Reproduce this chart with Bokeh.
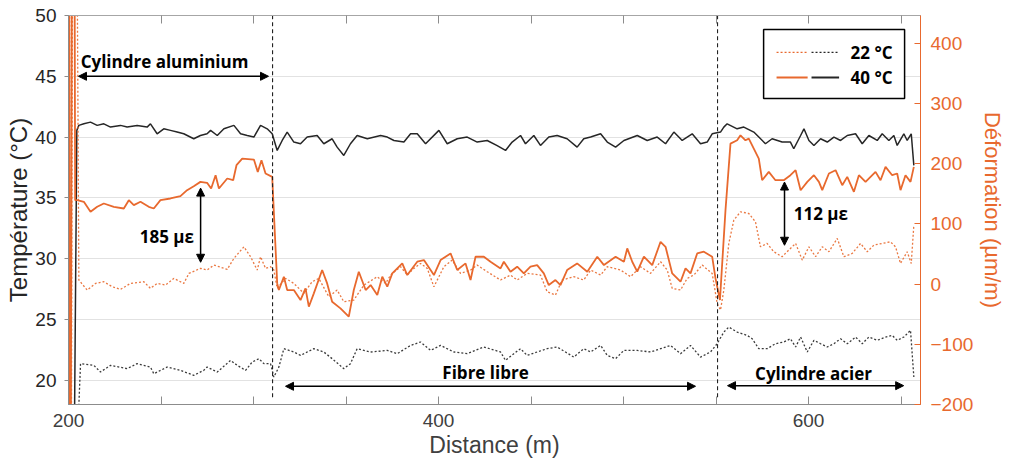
from bokeh.plotting import figure
from bokeh.models import (Range1d, LinearAxis, FixedTicker, Arrow, NormalHead,
                          Label, BoxAnnotation, ColumnDataSource)
from bokeh.embed import file_html
from bokeh.resources import INLINE

# ---------------- data (distance m, value) ----------------
# Temperature at 40 °C (black solid), °C
temp_40 = [(202.9, 10), (204.5, 40.55), (205.6, 40.96), (208.3, 41.09), (211.9, 41.23), (215.5, 40.96),
           (219.1, 41.09), (222.7, 40.82), (228.1, 40.96), (231.7, 40.82), (237.1, 40.96), (242.5, 40.82),
           (244.3, 41.09), (247.9, 40.27), (251.5, 40.68), (255.1, 40.55), (258.7, 40.41), (262.3, 40.27),
           (267.7, 39.86), (271.3, 40.13), (274.9, 40.27), (276.8, 40.55), (280.4, 40.13), (284.0, 40.68),
           (289.4, 40.96), (293.0, 40.27), (296.6, 40.13), (300.2, 40.0), (303.8, 40.96), (307.4, 40.68),
           (310.1, 40.27), (312.8, 38.9), (315.5, 39.72), (318.2, 40.41), (321.8, 39.59), (325.4, 39.45),
           (329.0, 40.0), (334.4, 40.13), (338.0, 39.45), (342.5, 39.86), (345.2, 39.17), (348.8, 38.49),
           (352.4, 39.45), (356.0, 40.13), (361.5, 39.86), (368.7, 40.13), (372.3, 40.0), (375.9, 39.72),
           (381.3, 39.59), (384.9, 40.27), (388.5, 40.27), (393.0, 39.45), (400.2, 40.55), (404.7, 39.45),
           (410.1, 39.86), (415.5, 40.0), (420.9, 39.59), (426.3, 39.72), (431.7, 39.3), (436.2, 38.9),
           (439.8, 39.59), (444.3, 40.13), (447.0, 39.45), (451.5, 40.13), (455.1, 39.31), (459.6, 40.0),
           (464.1, 40.13), (469.5, 39.86), (474.9, 39.17), (478.5, 39.86), (482.2, 40.0), (487.6, 40.27),
           (491.2, 39.59), (495.7, 39.17), (500.2, 39.72), (507.4, 40.13), (512.8, 39.72), (518.2, 40.0),
           (522.7, 39.45), (527.2, 40.41), (531.7, 39.72), (537.1, 40.27), (541.6, 39.45), (545.2, 39.59),
           (547.9, 40.27), (552.4, 40.41), (554.2, 40.82), (556.0, 41.09), (561.4, 40.68), (565.0, 40.82),
           (570.4, 40.41), (573.1, 40.0), (576.7, 39.45), (580.3, 39.86), (585.7, 39.59), (590.2, 39.59),
           (592.0, 39.04), (595.7, 40.13), (597.5, 40.68), (600.2, 39.72), (602.9, 39.31), (606.5, 39.86),
           (610.1, 39.59), (613.7, 40.0), (617.3, 39.72), (620.9, 40.13), (625.4, 40.27), (629.0, 39.45),
           (632.6, 40.13), (637.1, 39.72), (639.8, 40.27), (643.4, 39.72), (646.1, 40.13), (647.9, 39.31),
           (651.5, 40.27), (653.3, 39.72), (655.5, 40.27), (656.9, 37.67)]

# Temperature at 22 °C (black dotted), °C
temp_22 = [(203.5, 10), (206.5, 21.36), (213.7, 21.22), (217.3, 20.67), (222.7, 21.22), (231.7, 20.95),
           (237.1, 21.36), (244.3, 21.08), (246.1, 20.53), (253.3, 21.08), (260.5, 20.81), (267.7, 20.40),
           (273.1, 20.81), (274.9, 21.08), (280.4, 20.67), (287.6, 21.63), (291.2, 21.22), (295.7, 20.81),
           (299.3, 21.49), (302.9, 21.77), (305.6, 21.36), (309.2, 21.36), (311.0, 20.26), (313.7, 21.08),
           (316.4, 22.59), (321.8, 22.32), (325.4, 22.04), (332.6, 22.59), (338.0, 22.32), (342.5, 21.77),
           (348.8, 20.95), (352.4, 21.36), (356.0, 22.59), (363.3, 22.32), (372.3, 22.45), (377.7, 22.18),
           (384.9, 22.86), (390.3, 23.14), (395.7, 22.45), (401.1, 22.86), (408.3, 22.32), (415.5, 22.18),
           (424.5, 22.73), (433.5, 22.32), (436.2, 21.63), (440.7, 22.18), (444.3, 22.59), (447.9, 22.04),
           (453.3, 22.32), (458.7, 22.59), (464.1, 22.73), (468.6, 22.32), (473.1, 21.90), (478.5, 22.59),
           (482.2, 22.32), (487.6, 22.86), (491.2, 22.04), (495.7, 21.77), (500.2, 22.45), (507.4, 22.45),
           (514.6, 22.32), (520.0, 22.59), (525.4, 22.86), (530.8, 22.18), (536.2, 22.86), (541.6, 21.90),
           (547.0, 22.32), (550.6, 23.0), (554.2, 23.96), (556.9, 24.37), (561.4, 23.96), (566.8, 23.69),
           (569.5, 23.41), (573.1, 22.59), (577.6, 22.59), (582.1, 23.0), (586.6, 23.14), (590.2, 23.41),
           (593.0, 22.73), (595.7, 23.55), (599.3, 22.32), (602.9, 23.28), (606.5, 23.0), (610.1, 22.73),
           (613.7, 23.0), (617.3, 23.41), (620.9, 23.0), (625.4, 23.55), (629.0, 23.0), (632.6, 23.55),
           (637.1, 23.28), (641.6, 23.55), (645.2, 23.69), (647.9, 23.28), (651.5, 23.55), (655.1, 24.10),
           (656.9, 20.26)]

# Strain at 40 °C (orange solid), µm/m
strain_40 = [(200.0, 1500), (200.9, -800), (202.5, 1500), (203.6, 139.3), (204.7, 139.3), (208.3, 136.6),
             (211.9, 120.0), (215.5, 128.3), (219.1, 133.8), (224.5, 128.3), (229.9, 125.5), (232.6, 139.3),
             (235.3, 131.1), (238.9, 136.6), (243.4, 128.3), (246.1, 125.5), (249.7, 139.3), (255.1, 142.1),
             (260.5, 146.0), (264.1, 155.9), (267.7, 162.6), (271.3, 169.7), (274.9, 168.1), (277.1, 158.7),
             (279.5, 180.8), (281.3, 158.7), (285.8, 175.3), (289.0, 172.5), (290.8, 197.4), (293.9, 208.4),
             (300.2, 206.8), (302.3, 186.3), (304.3, 205.7), (306.5, 183.6), (310.1, 178.0), (312.8, 1.1),
             (313.7, -9.9), (316.4, 12.2), (318.2, -9.9), (321.8, -9.9), (325.4, -26.5), (328.1, -7.1),
             (329.9, -37.6), (332.6, -15.4), (337.1, 23.3), (339.8, 1.1), (342.5, -29.3), (347.0, -40.3),
             (351.5, -54.1), (354.2, -9.9), (356.9, 20.5), (360.6, -9.9), (363.3, -1.6), (366.9, -18.2),
             (369.6, 12.2), (372.3, -4.4), (375.0, 17.7), (380.4, 34.3), (383.1, 15.0), (388.5, 37.1),
             (392.1, 39.8), (397.5, 15.0), (401.1, 39.8), (406.5, 50.9), (410.1, 23.3), (414.6, 34.3),
             (417.3, 6.7), (420.0, 45.4), (424.5, 45.4), (428.1, 37.1), (433.5, 26.0), (435.3, 37.1),
             (438.9, 20.5), (442.5, 28.8), (446.1, 17.7), (449.7, 28.8), (453.3, 31.5), (456.9, 17.7),
             (459.6, -1.6), (463.2, 6.7), (465.9, -1.6), (469.5, 23.3), (474.9, 34.3), (480.4, 20.5),
             (485.8, 45.4), (489.4, 31.5), (495.7, 45.4), (500.2, 37.1), (502.0, 59.2), (504.7, 37.1),
             (507.4, 20.5), (511.0, 45.4), (515.5, 31.5), (520.0, 70.2), (522.7, 61.9), (526.3, 17.7),
             (530.8, 3.9), (533.5, 26.0), (536.2, 17.7), (539.8, 50.9), (543.4, 53.7), (547.9, 45.4),
             (549.7, 9.4), (552.1, -26.5), (555.1, 122.8), (557.8, 233.3), (561.4, 238.8), (563.2, 247.1),
             (565.9, 238.8), (567.7, 241.6), (570.4, 225.0), (573.1, 208.4), (574.9, 172.5), (578.5, 186.3),
             (582.1, 172.5), (586.6, 172.5), (590.2, 180.8), (593.0, 189.1), (595.7, 155.9), (599.3, 169.7),
             (602.9, 180.8), (605.6, 169.7), (607.4, 155.9), (611.0, 183.6), (614.6, 189.1), (618.2, 164.2),
             (620.9, 178.0), (624.5, 153.2), (627.2, 180.8), (630.8, 169.7), (636.2, 186.3), (638.9, 172.5),
             (641.6, 194.6), (645.2, 180.8), (647.9, 183.6), (649.7, 155.9), (652.4, 180.8), (655.1, 169.7),
             (656.9, 194.6)]

# Strain at 22 °C (orange dotted), µm/m
strain_22 = [(200.2, 1500), (201.1, -800), (203.0, 1500), (205.6, 6.7), (210.1, -9.9), (214.6, 1.1),
             (219.1, 3.9), (223.6, -4.4), (228.1, -8.8), (233.5, 1.1), (240.7, 3.9), (244.3, -7.1),
             (247.9, 1.1), (252.4, -1.6), (256.9, 9.4), (262.3, 1.1), (265.1, 17.7), (271.3, 26.0),
             (274.9, 23.3), (278.6, 31.5), (285.8, 24.4), (289.4, 42.6), (294.8, 61.9), (298.4, 45.4),
             (302.0, 23.3), (303.8, 45.4), (306.5, 26.0), (309.2, 28.8), (311.0, 23.3), (312.8, -7.1),
             (317.3, 9.4), (321.8, 1.1), (327.2, -15.4), (331.7, 3.9), (335.3, 9.4), (340.7, -21.0),
             (345.2, -9.9), (348.8, -29.3), (354.2, -26.5), (359.7, -1.6), (366.9, 12.2), (371.4, 1.1),
             (374.1, 15.0), (379.5, 28.8), (383.1, 15.0), (386.7, 26.0), (390.3, 34.3), (393.9, 26.0),
             (397.5, -4.4), (402.9, 28.8), (407.4, 39.8), (411.9, 17.7), (417.3, 23.3), (420.9, 31.5),
             (426.3, 20.5), (433.5, 6.7), (438.9, 14.9), (442.5, 6.7), (447.9, 17.7), (455.1, 14.9),
             (458.7, -12.7), (463.2, -18.2), (466.8, 6.7), (473.1, 12.2), (478.5, 6.7), (482.2, 23.3),
             (487.6, 15.0), (491.2, 28.8), (498.4, 23.3), (503.8, 12.2), (509.2, 28.8), (514.6, 17.7),
             (520.0, 37.1), (523.6, 23.3), (526.3, -7.1), (530.8, -9.9), (534.4, 9.4), (538.0, 15.0),
             (542.5, 31.5), (547.9, 17.7), (550.6, -32.0), (552.4, -43.1), (554.2, -9.9), (556.9, 67.5),
             (559.6, 106.2), (563.2, 120.0), (567.7, 117.2), (571.3, 103.4), (574.0, 61.9), (577.6, 67.5),
             (581.2, 53.7), (585.7, 45.4), (589.3, 56.4), (593.0, 67.5), (596.6, 39.8), (600.2, 61.9),
             (603.8, 45.4), (607.4, 61.9), (611.0, 53.7), (615.5, 75.8), (619.1, 45.4), (623.6, 50.9),
             (628.1, 67.5), (631.7, 53.7), (635.3, 64.7), (639.8, 67.5), (644.3, 70.2), (647.0, 61.9),
             (649.7, 34.3), (653.3, 53.7), (655.5, 34.3), (656.9, 97.9)]

section_bounds = [310.3, 550.8]          # cylinder / free fibre boundaries (m)
x_label_ticks = [200, 400, 600]
x_minor_ticks = [250, 300, 350, 450, 500, 550, 650]
temp_ticks = [20, 25, 30, 35, 40, 45, 50]
strain_ticks = [-200, -100, 0, 100, 200, 300, 400]
legend_labels = ["22 °C", "40 °C"]

ORANGE = "#E8692E"
BLACK = "#262626"
GRAY = "#8C8C8C"
FONT = "Liberation Sans"
BOLD_FONT = "Open Sans"
DOT = "2 2"

p = figure(frame_width=852, frame_height=389, output_backend="svg", toolbar_location=None,
           x_range=Range1d(200, 660.5), y_range=Range1d(18, 50),
           min_border_left=68, min_border_right=88, min_border_top=15, min_border_bottom=63)
p.extra_y_ranges = {"strain": Range1d(-200, 446)}
p.background_fill_color = "white"
p.border_fill_color = "white"
p.outline_line_color = "#A6A6A6"
p.xgrid.visible = False
p.ygrid.ticker = FixedTicker(ticks=temp_ticks)
p.ygrid.grid_line_color = "#E2E2E2"
p.ygrid.grid_line_width = 1

def xy(pairs):
    return ColumnDataSource(dict(x=[a for a, _ in pairs], y=[b for _, b in pairs]))

p.line("x", "y", source=xy(temp_22), line_color="#3A3A3A", line_width=1.3, line_dash=DOT)
p.line("x", "y", source=xy(temp_40), line_color=BLACK, line_width=1.5)
p.line("x", "y", source=xy(strain_22), y_range_name="strain", line_color=ORANGE,
       line_width=1.3, line_dash=DOT, line_alpha=0.9)
p.line("x", "y", source=xy(strain_40), y_range_name="strain", line_color=ORANGE, line_width=1.8)

p.segment(x0=section_bounds, x1=section_bounds, y0=[18.6, 18.6], y1=[50, 50],
          line_color="#222222", line_width=1.1, line_dash="4 3")

# axes
xa = p.xaxis[0]
xa.ticker = FixedTicker(ticks=x_label_ticks, minor_ticks=x_minor_ticks)
xa.axis_label = "Distance (m)"
xa.axis_line_color = GRAY
xa.major_tick_line_color = GRAY
xa.minor_tick_line_color = GRAY
xa.major_tick_in = 8
xa.major_tick_out = 0
xa.minor_tick_in = 8
xa.minor_tick_out = 0
xa.major_label_standoff = 9
xa.axis_label_standoff = 2
xa.major_label_text_font = FONT
xa.major_label_text_font_size = "19px"
xa.major_label_text_color = "#404040"
xa.axis_label_text_font = FONT
xa.axis_label_text_font_size = "23px"
xa.axis_label_text_font_style = "normal"
xa.axis_label_text_color = "#404040"

ya = p.yaxis[0]
ya.ticker = FixedTicker(ticks=temp_ticks)
ya.axis_label = "Température (°C)"
ya.axis_line_color = GRAY
ya.major_tick_line_color = GRAY
ya.major_tick_in = 0
ya.major_tick_out = 4
ya.minor_tick_line_color = None
ya.major_label_standoff = 8
ya.axis_label_standoff = 0
ya.major_label_text_font = FONT
ya.major_label_text_font_size = "19px"
ya.major_label_text_color = BLACK
ya.axis_label_text_font = FONT
ya.axis_label_text_font_size = "24px"
ya.axis_label_text_font_style = "normal"
ya.axis_label_text_color = BLACK

ra = LinearAxis(y_range_name="strain", ticker=FixedTicker(ticks=strain_ticks),
                axis_label="Déformation (µm/m)")
ra.axis_line_color = ORANGE
ra.major_tick_line_color = ORANGE
ra.major_tick_in = 6
ra.major_tick_out = 0
ra.minor_tick_line_color = None
ra.major_label_standoff = 10
ra.axis_label_standoff = 4
ra.major_label_text_font = FONT
ra.major_label_text_font_size = "19px"
ra.major_label_text_color = ORANGE
ra.axis_label_text_font = FONT
ra.axis_label_text_font_size = "22px"
ra.axis_label_text_font_style = "normal"
ra.axis_label_text_color = ORANGE
p.add_layout(ra, "right")

ta = LinearAxis(ticker=FixedTicker(ticks=[], minor_ticks=x_label_ticks + x_minor_ticks))
ta.major_label_standoff = 0
ta.axis_line_color = "#A6A6A6"
ta.major_tick_line_color = None
ta.minor_tick_line_color = GRAY
ta.minor_tick_in = 8
ta.minor_tick_out = 0
p.add_layout(ta, "above")

# annotations
def head():
    return NormalHead(size=8, fill_color="black", line_color="black", line_width=1)

def darrow(x0, y0, x1, y1):
    p.add_layout(Arrow(start=head(), end=head(), x_start=x0, y_start=y0, x_end=x1, y_end=y1,
                       line_color="black", line_width=1.5))

def blabel(x, y, text, align="center"):
    p.add_layout(Label(x=x, y=y, text=text, text_font=BOLD_FONT, text_font_style="bold",
                       text_font_size="17px", text_color="black", text_align=align,
                       text_baseline="middle"))

blabel(251.9, 46.25, "Cylindre aluminium")
darrow(205.4, 45.0, 308.1, 45.0)
blabel(267.8, 31.8, "185 µε", align="right")
darrow(271.4, 35.8, 271.4, 29.7)
blabel(592.0, 33.75, "112 µε", align="left")
darrow(587.0, 36.3, 587.0, 31.1)
blabel(425.4, 20.6, "Fibre libre")
darrow(317.3, 19.5, 538.9, 19.5)
blabel(602.7, 20.55, "Cylindre acier")
darrow(556.2, 19.55, 651.4, 19.55)

# custom legend
p.add_layout(BoxAnnotation(left=575.7, right=651.9, bottom=43.17, top=48.85, fill_color="white",
                           fill_alpha=1, line_color="black", line_width=1.5, line_alpha=1))
for yy, dash, lab in [(46.96, DOT, legend_labels[0]), (44.9, "solid", legend_labels[1])]:
    lw = 1.3 if dash != "solid" else 2.0
    p.add_layout(Arrow(end=None, x_start=582.7, y_start=yy, x_end=599.5, y_end=yy,
                       line_color=ORANGE, line_width=lw, line_dash=dash))
    p.add_layout(Arrow(end=None, x_start=601.6, y_start=yy, x_end=616.5, y_end=yy,
                       line_color=BLACK, line_width=lw, line_dash=dash))
    p.add_layout(Label(x=622.7, y=yy, text=lab, text_font=BOLD_FONT, text_font_style="bold",
                       text_font_size="17px", text_color="black", text_align="left",
                       text_baseline="middle"))

open("out.html", "w").write(file_html(p, INLINE))
